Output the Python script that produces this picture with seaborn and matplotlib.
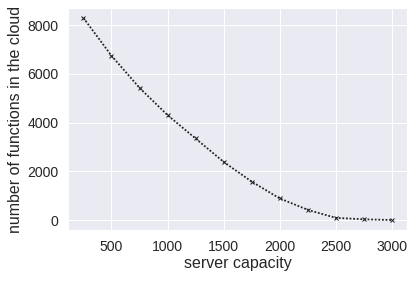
import matplotlib
matplotlib.use('Agg')
import matplotlib.pyplot as plt
import seaborn as sns

sns.set_theme(style='darkgrid', context='notebook')
plt.rcParams['font.family'] = ['Liberation Sans', 'DejaVu Sans']

# Dados
capacity = [250, 500, 750, 1000, 1250, 1500, 1750, 2000, 2250, 2500, 2750, 3000]
functions = [8300, 6750, 5430, 4310, 3350, 2390, 1580, 890, 420, 90, 30, 0]

fig = plt.figure(figsize=(415 / 72, 281 / 72), dpi=72)
ax = fig.add_axes([0.164, 0.181, 0.817, 0.791])

sns.lineplot(x=capacity, y=functions, ax=ax, color='#222222', linestyle=(0, (1, 1)),
             linewidth=1.8, marker='x', markersize=4, markeredgewidth=1,
             markeredgecolor='#222222')

ax.set_xlabel('server capacity', fontsize=16, labelpad=2)
ax.set_ylabel('number of functions in the cloud', fontsize=16, labelpad=4)
ax.set_xticks([500, 1000, 1500, 2000, 2500, 3000])
ax.set_yticks([0, 2000, 4000, 6000, 8000])
ax.tick_params(labelsize=14)

fig.savefig('out.png', dpi=72)
plt.close()
